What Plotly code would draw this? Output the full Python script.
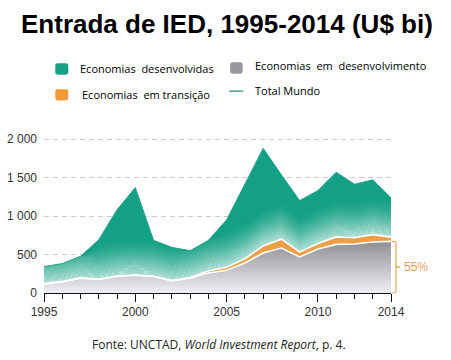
import numpy as np
import plotly.graph_objects as go

# ---------------- data (US$ bi) ----------------
years = list(range(1995, 2015))
developing = [119, 145, 192, 175, 218, 231, 214, 158, 192, 261,
              295, 391, 520, 585, 469, 572, 632, 637, 663, 671]
transition = [3, 3, 4, 3, 3, 3, 4, 4, 10, 25,
              40, 55, 92, 115, 62, 70, 95, 80, 96, 55]
developed = [221, 234, 281, 515, 861, 1137, 466, 431, 348, 398,
             617, 964, 1268, 835, 671, 690, 843, 697, 711, 511]
y_tickvals = [0, 500, 1000, 1500, 2000]
y_ticktext = ["0", "500", "1 000", "1 500", "2 000"]
x_tickvals = [1995, 2000, 2005, 2010, 2014]
share_label = "55%"

dev = np.array(developing, dtype=float)
low = dev + np.array(transition, dtype=float)
total = low + np.array(developed, dtype=float)

GREEN = "#13a084"
ORANGE = "#ee9e45"
BRACKET = "#e6a35a"
NARROW = "Liberation Sans Narrow, Arial Narrow, Liberation Sans, Arial, sans-serif"

fig = go.Figure()

# developing economies (gray, vertical gradient)
fig.add_trace(go.Scatter(
    x=years, y=dev, mode="lines", line=dict(width=0),
    fill="tozeroy",
    fillgradient=dict(type="vertical", start=0, stop=700,
                      colorscale=[[0, "#efeff3"], [1, "#8a8a91"]]),
    hoverinfo="skip", showlegend=False))
# transition economies (orange)
fig.add_trace(go.Scatter(
    x=years, y=low, mode="lines", line=dict(width=0),
    fill="tonexty", fillcolor=ORANGE, hoverinfo="skip", showlegend=False))
# developed economies (green)
fig.add_trace(go.Scatter(
    x=years, y=total, mode="lines", line=dict(width=0),
    fill="tonexty", fillcolor=GREEN, hoverinfo="skip", showlegend=False))

# light fade of the green band just above its lower edge
step = 12.0
nb = 42
fig.add_trace(go.Scatter(x=years, y=low, mode="lines", line=dict(width=0),
                         hoverinfo="skip", showlegend=False))
for k in range(nb):
    up = np.minimum(low + (k + 1) * step, total)
    d = (k + 0.5) * step
    a = 0.80 * max(0.0, 1 - d / (nb * step)) ** 1.6
    fig.add_trace(go.Scatter(
        x=years, y=up, mode="lines", line=dict(width=0),
        fill="tonexty", fillcolor=f"rgba(255,255,255,{a:.3f})",
        hoverinfo="skip", showlegend=False))

# white separators and world total line
fig.add_trace(go.Scatter(x=years, y=dev, mode="lines",
                         line=dict(color="white", width=1.6),
                         hoverinfo="skip", showlegend=False))
fig.add_trace(go.Scatter(x=years, y=low, mode="lines",
                         line=dict(color="white", width=1.6),
                         hoverinfo="skip", showlegend=False))
fig.add_trace(go.Scatter(x=years, y=total, mode="lines",
                         line=dict(color="#2aa58c", width=1),
                         hoverinfo="skip", showlegend=False))

L, R, T, B = 43.7, 391.0, 136.0, 293.5
W, H = 451, 360


def px(x):
    return (x - L) / (R - L)


def py(y):
    return (B - y) / (B - T)


shapes = []
annotations = []


def rounded_rect(x0, y0, x1, y1, color, r=2.5):
    X0, X1 = px(x0), px(x1)
    rx = r / (R - L)
    ry = r / (B - T)
    Y0, Y1 = py(y1), py(y0)
    path = (f"M {X0+rx},{Y0} L {X1-rx},{Y0} Q {X1},{Y0} {X1},{Y0+ry} "
            f"L {X1},{Y1-ry} Q {X1},{Y1} {X1-rx},{Y1} L {X0+rx},{Y1} "
            f"Q {X0},{Y1} {X0},{Y1-ry} L {X0},{Y0+ry} Q {X0},{Y0} {X0+rx},{Y0} Z")
    shapes.append(dict(type="path", xref="paper", yref="paper", path=path,
                       fillcolor=color, line=dict(width=0), layer="above"))


rounded_rect(55, 63, 68, 74.5, "#16a385")
rounded_rect(230, 62, 242.5, 73.5, "#97979d")
rounded_rect(55, 89, 68, 100.5, "#f39a35")
shapes.append(dict(type="line", xref="paper", yref="paper",
                   x0=px(229), x1=px(243), y0=py(91), y1=py(91),
                   line=dict(color="#2a8f8a", width=1.3)))

LEG = dict(family="Open Sans, sans-serif", size=11, color="#000000")


def txt(x, y, s, font, xanchor="left"):
    annotations.append(dict(x=px(x), y=py(y), xref="paper", yref="paper",
                            text=s, showarrow=False, xanchor=xanchor,
                            yanchor="middle", font=font))


txt(78, 68.5, "Economias  desenvolvidas", LEG)
txt(253, 65, "Economias  em  desenvolvimento", LEG)
txt(80, 94, "Economias  em transição", LEG)
txt(253, 90, "Total Mundo", LEG)

txt(227, 24, "<b>Entrada de IED, 1995-2014 (U$ bi)</b>",
    dict(family="Liberation Sans, Arial, sans-serif", size=26, color="#000000"),
    xanchor="center")
txt(219, 345, "Fonte: UNCTAD, <i>World Investment Report</i>, p. 4.",
    dict(family="Open Sans, sans-serif", size=12, color="#222222"),
    xanchor="center")

# 55% bracket
top = dev[-1]
bx = px(396)
hx = px(391.5)
tx = px(400)
pyv = lambda v: v / (2040.0)
mid = top / 2
path = (f"M {hx},{pyv(top)} Q {bx},{pyv(top)} {bx},{pyv(top-20)} "
        f"L {bx},{pyv(mid+14)} Q {bx},{pyv(mid)} {tx},{pyv(mid)} "
        f"Q {bx},{pyv(mid)} {bx},{pyv(mid-14)} "
        f"L {bx},{pyv(20)} Q {bx},{pyv(0)} {hx},{pyv(0)}")
shapes.append(dict(type="path", xref="paper", yref="paper", path=path,
                   line=dict(color=BRACKET, width=1.2)))
annotations.append(dict(x=px(402.5), y=pyv(mid), xref="paper", yref="paper",
                        text=share_label, showarrow=False, xanchor="left",
                        yanchor="middle",
                        font=dict(family=NARROW, size=12, color=BRACKET)))

fig.update_layout(
    width=W, height=H, autosize=False,
    margin=dict(l=L, r=W - R, t=T, b=H - B, pad=0),
    plot_bgcolor="white", paper_bgcolor="white",
    shapes=shapes, annotations=annotations, showlegend=False,
    xaxis=dict(range=[1995, 2014], tickvals=x_tickvals,
               ticks="outside", ticklen=8, tickwidth=1, tickcolor="#111",
               showline=True, linecolor="#111", linewidth=1,
               showgrid=False, zeroline=False, automargin=False,
               minor=dict(ticks="outside", ticklen=5, tickwidth=1,
                          tickcolor="#111", dtick=1, tick0=1995, showgrid=False),
               tickfont=dict(family=NARROW, size=12, color="#333")),
    yaxis=dict(range=[0, 2040], tickvals=y_tickvals, ticktext=y_ticktext,
               showgrid=True, gridcolor="#c9ccd3", gridwidth=1, griddash="5px,4px",
               zeroline=False, showline=False, ticks="", ticklabelstandoff=6,
               automargin=False,
               tickfont=dict(family=NARROW, size=12, color="#333")),
)

fig.write_html("out.html",
               config={"displayModeBar": False},
               post_script="document.body.style.margin='0px';")
